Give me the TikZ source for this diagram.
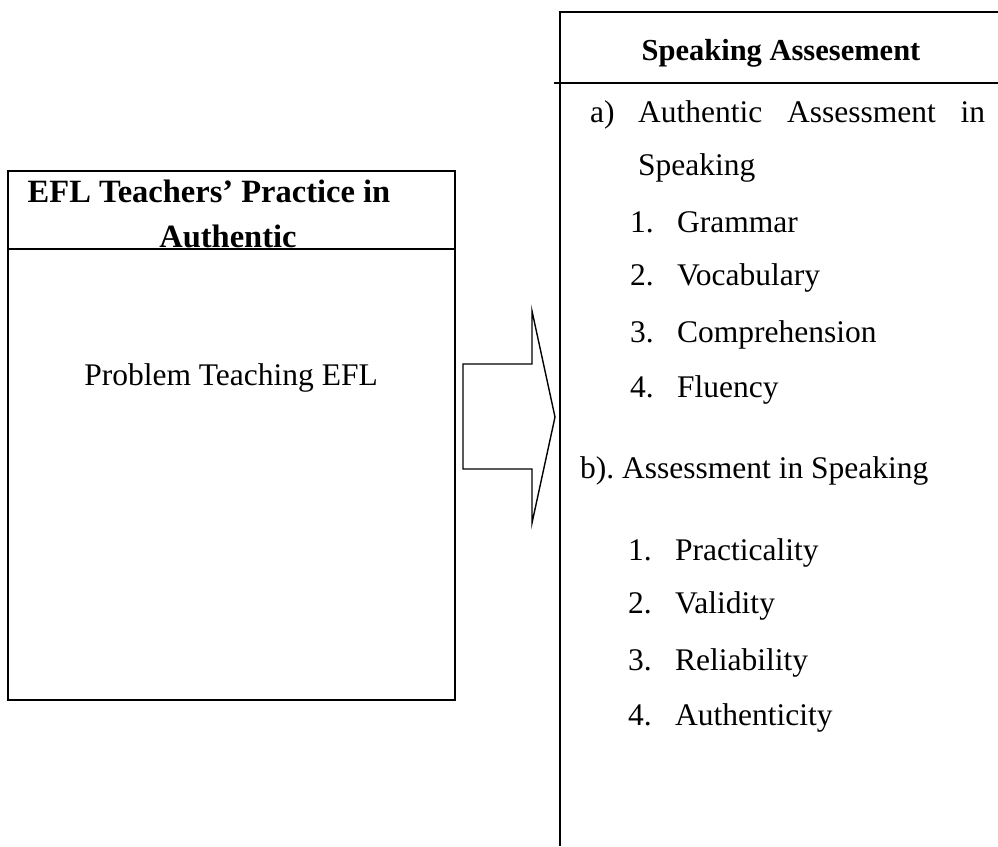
\documentclass[tikz,border=0pt]{standalone}
\usepackage{fontspec}
\setmainfont{Liberation Serif}
\begin{document}
\frenchspacing
\begin{tikzpicture}[x=1pt,y=-1pt,
  frame/.style={line width=2pt},
  arrowline/.style={line width=1.4pt, line join=miter},
  txt/.style={inner sep=0pt, anchor=base west, font=\fontsize{31.5}{36}\selectfont},
  ctxt/.style={inner sep=0pt, anchor=base, font=\fontsize{31.5}{36}\selectfont},
  btxt/.style={ctxt, font=\fontsize{#1}{36}\selectfont\bfseries},
  btxt/.default=31.5]
\useasboundingbox (0,0) rectangle (998,846);

% left box: practice in authentic assessment
\draw[frame] (8,171) rectangle (455,700);
\draw[frame] (8,249) -- (455,249);
\node[btxt=32.5] (lh1) at (209,202) {EFL Teachers’ Practice in};
\node[btxt=32.5] (lh2) at (228,247) {Authentic};
\node[ctxt] (lbody) at (231,385) {Problem Teaching EFL};

% block arrow between the two boxes
\draw[arrowline] (463,364) -- (532,364) -- (532,311) -- (555,417)
  -- (532,523) -- (532,469) -- (463,469) -- cycle;

% right box: speaking assessment
\draw[frame] (998,12) -- (560,12) -- (560,846);
\draw[frame] (554,83) -- (998,83);
\node[btxt=30.5] (rh) at (781,60) {Speaking Assesement};

\node[txt] (a) at (590,122) {a)};
\node[txt] (a1) at (638,122) {\makebox[347pt][s]{Authentic Assessment in}};
\node[txt] (a2) at (638,175) {Speaking};
\node[txt] (g1) at (630,232) {1.};
\node[txt] (g2) at (677,232) {Grammar};
\node[txt] (v1) at (630,285) {2.};
\node[txt] (v2) at (677,285) {Vocabulary};
\node[txt] (c1) at (630,342) {3.};
\node[txt] (c2) at (677,342) {Comprehension};
\node[txt] (f1) at (630,397) {4.};
\node[txt] (f2) at (677,397) {Fluency};

\node[txt] (b) at (580,478) {b). Assessment in Speaking};
\node[txt] (p1) at (628,560) {1.};
\node[txt] (p2) at (675,560) {Practicality};
\node[txt] (va1) at (628,613) {2.};
\node[txt] (va2) at (675,613) {Validity};
\node[txt] (r1) at (628,670) {3.};
\node[txt] (r2) at (675,670) {Reliability};
\node[txt] (au1) at (628,725) {4.};
\node[txt] (au2) at (675,725) {Authenticity};
\end{tikzpicture}
\end{document}
